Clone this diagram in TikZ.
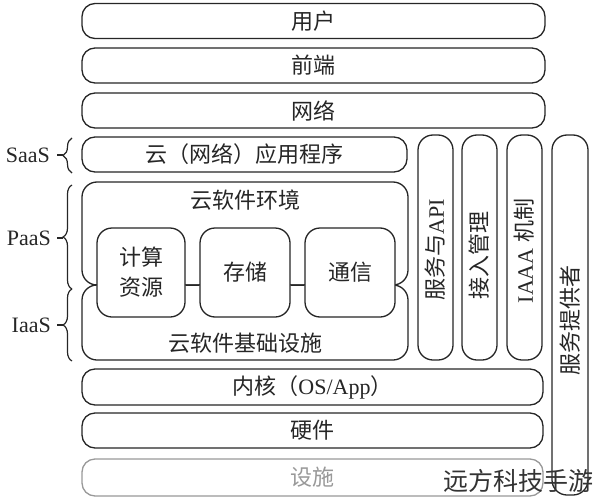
\documentclass[tikz,border=0pt]{standalone}
\usepackage{fontspec}
\setmainfont{Liberation Serif}
\newfontfamily\cjk{Noto Sans CJK SC}
\usetikzlibrary{decorations.pathreplacing}
\begin{document}
\begin{tikzpicture}[x=1pt,y=-1pt,
  base/.style={draw=black!85, line width=1.3pt, fill=white, inner sep=0pt,
    font=\fontsize{22}{24}\selectfont, text=black!85},
  bar/.style={base, rounded corners=13pt, minimum height=35pt},
  bigbox/.style={base, rounded corners=15pt},
  col/.style={base, rounded corners=15pt, minimum width=35pt},
  lbl/.style={inner sep=0pt, font=\fontsize{22}{24}\selectfont, text=black!85},
  brc/.style={draw=black!85, line width=1.2pt, decorate, decoration={brace, amplitude=9pt}},
  tick/.style={draw=black!85, line width=1.2pt}
]
\useasboundingbox (0,0) rectangle (593,500);
% horizontal bars
\node[bar, minimum width=463pt] (user)  at (313.5,21)   {\cjk 用户};
\node[bar, minimum width=463pt] (front) at (313.5,65.5) {\cjk 前端};
\node[bar, minimum width=463pt] (net)   at (313.5,110.5){\cjk 网络};
\node[bar, minimum width=325pt] (app)   at (244.5,154.5){\cjk 云（网络）应用程序};
% environment and infrastructure
\node[bigbox, minimum width=326pt, minimum height=103pt] (env)   at (245,233.5) {};
\node[bigbox, minimum width=326pt, minimum height=75pt]  (infra) at (245,322.5) {};
\node[lbl] (envl)   at (245,200) {\cjk 云软件环境};
\node[lbl] (infral) at (245,343) {\cjk 云软件基础设施};
% inner boxes
\node[bigbox, minimum width=88pt, minimum height=89pt, align=center, font=\cjk\fontsize{22}{30}\selectfont] (calc) at (141,272.5) {计算\\资源};
\node[bigbox, minimum width=90pt, minimum height=89pt, font=\cjk\fontsize{22}{24}\selectfont] (store) at (245,272.5) {存储};
\node[bigbox, minimum width=90pt, minimum height=89pt, font=\cjk\fontsize{22}{24}\selectfont] (comm)  at (350,272.5) {通信};
\draw[tick] (calc.east |- env.south) -- (store.west |- env.south);
\draw[tick] (store.east |- env.south) -- (comm.west |- env.south);
% columns
\node[col, minimum height=225pt] (c1) at (435.5,247.5) {};
\node[col, minimum height=225pt] (c2) at (479.5,247.5) {};
\node[col, minimum height=225pt] (c3) at (524.5,247.5) {};
\node[col, minimum width=36pt, minimum height=360pt] (c4) at (570,315) {};
\node[lbl, rotate=90] (c1l) at (435.5,250) {{\cjk 服务与}API};
\node[lbl, rotate=90] (c2l) at (479.5,255) {\cjk 接入管理};
\node[lbl, rotate=90] (c3l) at (524.5,251) {IAAA {\cjk 机制}};
\node[lbl, rotate=90] (c4l) at (570,320) {\cjk 服务提供者};
% lower bars
\node[bar, minimum width=461pt, minimum height=36pt] (kern) at (312.5,387) {{\cjk 内核（}OS/App{\cjk ）}};
\node[bar, minimum width=461pt] (hw)  at (312.5,430.5) {\cjk 硬件};
\node[bar, minimum width=461pt, minimum height=37pt, draw=black!40, text=black!40] (fac) at (312.5,477.5) {\cjk 设施};
% braces
\draw[brc] (72,173) -- (72,138);
\draw[brc] (72,289) -- (72,185);
\draw[brc] (72,361) -- (72,289);
\node[lbl, anchor=east] (saas) at (50,155) {SaaS};
\node[lbl, anchor=east] (paas) at (51,238) {PaaS};
\node[lbl, anchor=east] (iaas) at (51,325) {IaaS};
\draw[tick] (saas.east) ++(7,0) -- ++(6,0);
\draw[tick] (paas.east) ++(6,0) -- ++(6,0);
\draw[tick] (iaas.east) ++(6,0) -- ++(6,0);
% watermark
\node[anchor=east, inner sep=0pt, font=\cjk\fontsize{25}{25}\selectfont, text=black!80] (wm) at (594,481) {远方科技手游};
\end{tikzpicture}
\end{document}
